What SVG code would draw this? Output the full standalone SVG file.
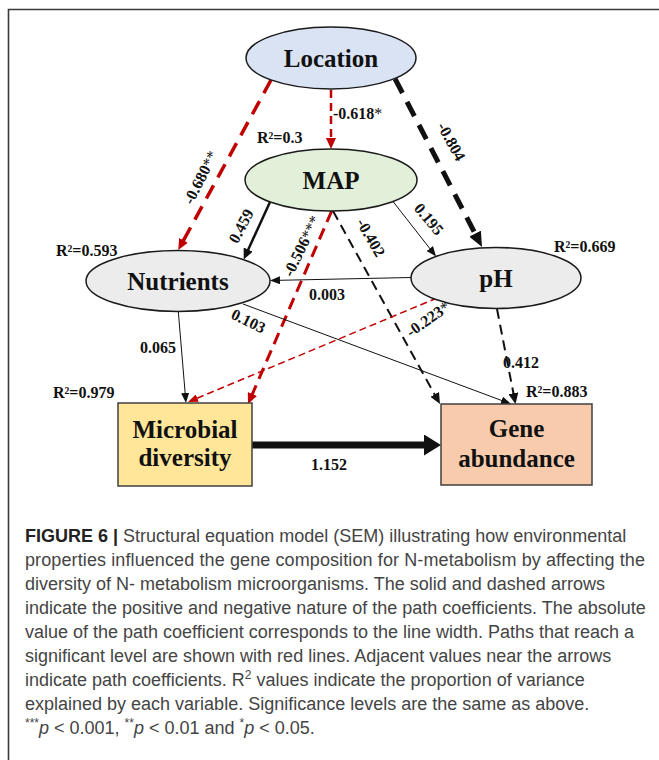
<svg xmlns="http://www.w3.org/2000/svg" width="659" height="760" viewBox="0 0 659 760">
<style>
.bg{fill:#ffffff}
.frame{fill:none;stroke:#3a3a3a;stroke-width:1.6}
.ell{stroke:#1a1a1a;stroke-width:1.5}
.box{stroke:#404040;stroke-width:1.5}
.nl{font-family:"Liberation Serif","Times New Roman",serif;font-weight:bold;font-size:25px;fill:#111;text-anchor:middle}
.cl{font-family:"Liberation Serif","Times New Roman",serif;font-weight:bold;font-size:16px;fill:#111}
.st{font-weight:normal}
.k{fill:none;stroke:#111}
.r{fill:none;stroke:#c00000}
.cap{font-family:"Liberation Sans",Arial,sans-serif;font-size:18px;fill:#444}
</style>
<defs>
<marker id="mk-s" markerUnits="userSpaceOnUse" viewBox="0 0 10 8" markerWidth="10" markerHeight="8" refX="3" refY="4" orient="auto"><path d="M0,0 L10,4 L0,8 z" fill="#111"/></marker>
<marker id="mr-s" markerUnits="userSpaceOnUse" viewBox="0 0 10 8" markerWidth="10" markerHeight="8" refX="3" refY="4" orient="auto"><path d="M0,0 L10,4 L0,8 z" fill="#c00000"/></marker>
<marker id="mk-m" markerUnits="userSpaceOnUse" viewBox="0 0 11 10" markerWidth="11" markerHeight="10" refX="3" refY="5" orient="auto"><path d="M0,0 L11,5 L0,10 z" fill="#111"/></marker>
<marker id="mr-m" markerUnits="userSpaceOnUse" viewBox="0 0 11 10" markerWidth="11" markerHeight="10" refX="3" refY="5" orient="auto"><path d="M0,0 L11,5 L0,10 z" fill="#c00000"/></marker>
<marker id="mk-l" markerUnits="userSpaceOnUse" viewBox="0 0 15 13" markerWidth="15" markerHeight="13" refX="3" refY="6.5" orient="auto"><path d="M0,0 L15,6.5 L0,13 z" fill="#111"/></marker>
<marker id="mk-xl" markerUnits="userSpaceOnUse" viewBox="0 0 17 21" markerWidth="17" markerHeight="21" refX="3" refY="10.5" orient="auto"><path d="M0,0 L17,10.5 L0,21 z" fill="#111"/></marker>
</defs>
<rect class="bg" x="0" y="0" width="659" height="760"/>
<path class="frame" d="M8.5,760 L8.5,9.5 L659,9.5"/>

<g id="connectors">
<line class="r" x1="331" y1="90" x2="331" y2="141" stroke-width="2.5" stroke-dasharray="8 5" marker-end="url(#mr-m)"/>
<line class="r" x1="271" y1="80" x2="182.1" y2="243" stroke-width="3.5" stroke-dasharray="15 9" marker-end="url(#mr-m)"/>
<line class="k" x1="395.1" y1="78.8" x2="476.5" y2="236.3" stroke-width="5" stroke-dasharray="16 10" marker-end="url(#mk-l)"/>
<line class="k" x1="270" y1="202" x2="247" y2="252.3" stroke-width="2.5" marker-end="url(#mk-m)"/>
<line class="k" x1="393" y1="201.5" x2="431.7" y2="250.9" stroke-width="1" marker-end="url(#mk-s)"/>
<line class="r" x1="331.7" y1="211" x2="251.2" y2="396.7" stroke-width="3" stroke-dasharray="12 7" marker-end="url(#mr-m)"/>
<line class="k" x1="333" y1="211" x2="436.1" y2="397" stroke-width="2" stroke-dasharray="10 6" marker-end="url(#mk-m)"/>
<line class="k" x1="411" y1="277.5" x2="277" y2="280.35" stroke-width="1" marker-end="url(#mk-s)"/>
<line class="r" x1="437" y1="298" x2="194.5" y2="399.3" stroke-width="1.5" stroke-dasharray="7 4" marker-end="url(#mr-s)"/>
<line class="k" x1="497" y1="309" x2="514" y2="396.2" stroke-width="2" stroke-dasharray="10 6" marker-end="url(#mk-m)"/>
<line class="k" x1="243" y1="304" x2="504.4" y2="401.5" stroke-width="1" marker-end="url(#mk-s)"/>
<line class="k" x1="178.3" y1="311.5" x2="185.4" y2="396" stroke-width="1" marker-end="url(#mk-s)"/>
<line class="k" x1="252" y1="445" x2="427" y2="445" stroke-width="7" marker-end="url(#mk-xl)"/>
</g>

<g id="location">
<ellipse class="ell" cx="331" cy="58" rx="85" ry="31" fill="#dae3f3"/>
<text class="nl" x="331" y="67">Location</text>
</g>
<g id="map">
<ellipse class="ell" cx="331" cy="180" rx="86" ry="31" fill="#e2f0d9"/>
<text class="nl" x="331" y="189">MAP</text>
<text class="cl" x="257" y="143">R²=0.3</text>
</g>
<g id="nutrients">
<ellipse class="ell" cx="178" cy="281" rx="92" ry="30.5" fill="#ececec"/>
<text class="nl" x="178" y="289.5">Nutrients</text>
<text class="cl" x="56" y="256">R²=0.593</text>
</g>
<g id="ph">
<ellipse class="ell" cx="496" cy="278" rx="85" ry="30.5" fill="#ececec"/>
<text class="nl" x="496" y="287">pH</text>
<text class="cl" x="554" y="252">R²=0.669</text>
</g>
<g id="microbial-diversity">
<rect class="box" x="118" y="403" width="134" height="83" fill="#ffe699"/>
<text class="nl" x="185" y="438">Microbial</text>
<text class="nl" x="185" y="466">diversity</text>
<text class="cl" x="53" y="398">R²=0.979</text>
</g>
<g id="gene-abundance">
<rect class="box" x="441" y="404" width="151" height="81" fill="#f8cbad"/>
<text class="nl" x="516.5" y="437">Gene</text>
<text class="nl" x="516.5" y="467">abundance</text>
<text class="cl" x="526" y="397">R²=0.883</text>
</g>

<g id="coefficients">
<text class="cl" x="333" y="119">-0.618<tspan class="st">*</tspan></text>
<text class="cl" text-anchor="middle" transform="translate(200.5,177.5) rotate(-63)" x="0" y="5.5">-0.680<tspan class="st">**</tspan></text>
<text class="cl" text-anchor="middle" transform="translate(451.5,141.5) rotate(61)" x="0" y="5.5">-0.804</text>
<text class="cl" text-anchor="middle" transform="translate(241,226) rotate(-62)" x="0" y="5.5">0.459</text>
<text class="cl" text-anchor="middle" transform="translate(301.5,246) rotate(-64)" x="0" y="5.5">-0.506<tspan class="st">***</tspan></text>
<text class="cl" text-anchor="middle" transform="translate(371,237.5) rotate(60)" x="0" y="5.5">-0.402</text>
<text class="cl" text-anchor="middle" transform="translate(429,219) rotate(50)" x="0" y="5.5">0.195</text>
<text class="cl" x="309" y="300">0.003</text>
<text class="cl" text-anchor="middle" transform="translate(248.5,321) rotate(26)" x="0" y="5.5">0.103</text>
<text class="cl" text-anchor="middle" transform="translate(428,319) rotate(-35)" x="0" y="5.5">-0.223<tspan class="st">*</tspan></text>
<text class="cl" x="140" y="352.5">0.065</text>
<text class="cl" x="503" y="368">0.412</text>
<text class="cl" x="311" y="470">1.152</text>
</g>

<g id="caption" class="cap">
<text x="25" y="542"><tspan font-weight="bold" fill="#222">FIGURE 6 |</tspan> Structural equation model (SEM) illustrating how environmental</text>
<text x="25" y="566" textLength="620" lengthAdjust="spacing">properties influenced the gene composition for N-metabolism by affecting the</text>
<text x="25" y="590">diversity of N- metabolism microorganisms. The solid and dashed arrows</text>
<text x="25" y="614">indicate the positive and negative nature of the path coefficients. The absolute</text>
<text x="25" y="638">value of the path coefficient corresponds to the line width. Paths that reach a</text>
<text x="25" y="662">significant level are shown with red lines. Adjacent values near the arrows</text>
<text x="25" y="686">indicate path coefficients. R<tspan font-size="12" baseline-shift="super">2</tspan> values indicate the proportion of variance</text>
<text x="25" y="710">explained by each variable. Significance levels are the same as above.</text>
<text x="25" y="734"><tspan font-size="12" baseline-shift="super">***</tspan><tspan font-style="italic">p</tspan> &lt; 0.001, <tspan font-size="12" baseline-shift="super">**</tspan><tspan font-style="italic">p</tspan> &lt; 0.01 and <tspan font-size="12" baseline-shift="super">*</tspan><tspan font-style="italic">p</tspan> &lt; 0.05.</text>
</g>
</svg>
